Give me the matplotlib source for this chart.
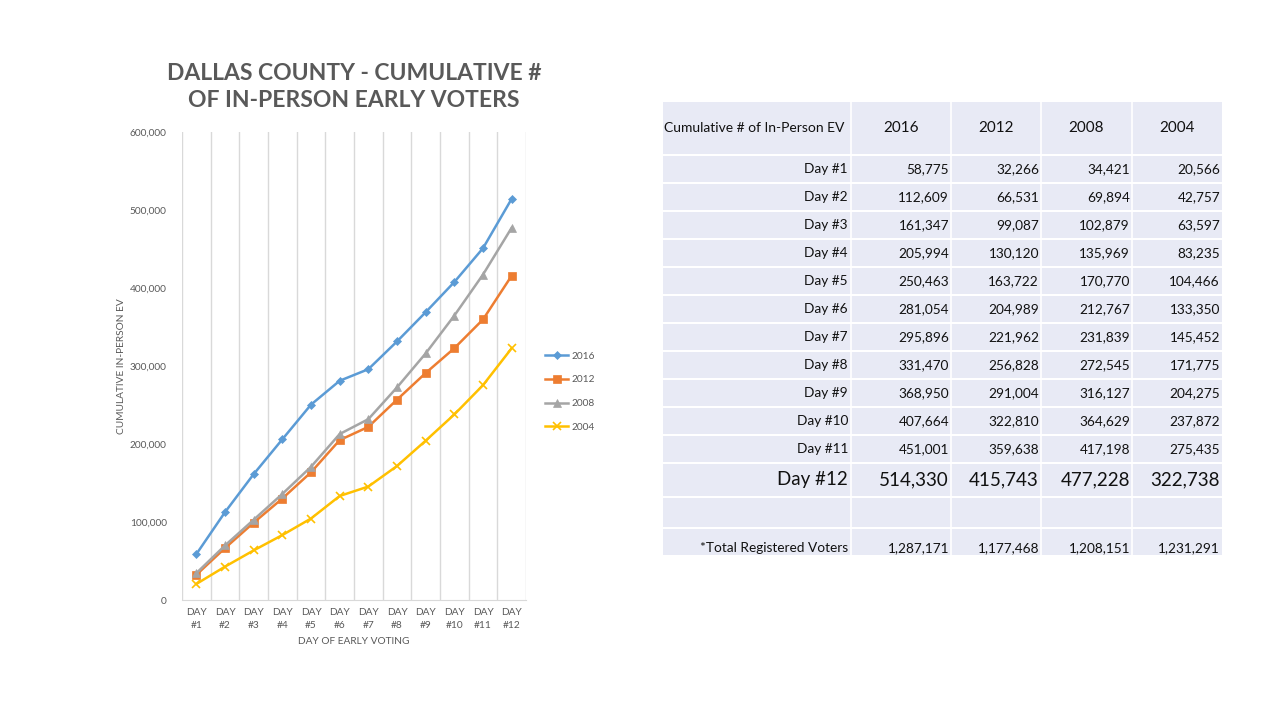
import matplotlib
matplotlib.use("Agg")
import matplotlib.pyplot as plt
from matplotlib.ticker import FuncFormatter

plt.rcParams['font.family'] = ['Lato', 'DejaVu Sans']

# Data
days = ['Day #%d' % i for i in range(1, 13)]
tick_labels = ['DAY\n#%d' % i for i in range(1, 13)]
years = ['2016', '2012', '2008', '2004']
ev_2016 = [58775, 112609, 161347, 205994, 250463, 281054, 295896, 331470, 368950, 407664, 451001, 514330]
ev_2012 = [32266, 66531, 99087, 130120, 163722, 204989, 221962, 256828, 291004, 322810, 359638, 415743]
ev_2008 = [34421, 69894, 102879, 135969, 170770, 212767, 231839, 272545, 316127, 364629, 417198, 477228]
ev_2004 = [20566, 42757, 63597, 83235, 104466, 133350, 145452, 171775, 204275, 237872, 275435, 322738]
registered = [1287171, 1177468, 1208151, 1231291]

series = [ev_2016, ev_2012, ev_2008, ev_2004]
colors = ['#5B9BD5', '#ED7D31', '#A5A5A5', '#FFC000']
markers = ['D', 's', '^', 'x']
msizes = [4.5, 5.5, 5.5, 6]

grey = '#595959'

fig = plt.figure(figsize=(12.8, 7.2), dpi=100)

# ---- line chart
ax = fig.add_axes([182 / 1280, 1 - 600 / 720, 344 / 1280, 468 / 720])
x = list(range(len(days)))
for s, yr, c, m, ms in zip(series, years, colors, markers, msizes):
    ax.plot(x, s, color=c, lw=1.8, marker=m, ms=ms, mew=1.2 if m == 'x' else 0.5,
            mec=c, label=yr)

ax.set_xlim(-0.5, len(days) - 0.5)
ax.set_ylim(0, 600000)
ax.set_yticks(range(0, 600001, 100000))
ax.yaxis.set_major_formatter(FuncFormatter(lambda v, p: '{:,}'.format(int(v))))
ax.set_xticks(x)
ax.set_xticklabels(tick_labels, linespacing=1.5)
ax.set_xticks([i - 0.5 for i in range(len(days) + 1)], minor=True)
ax.grid(which='minor', axis='x', color='#D9D9D9', lw=1)
ax.tick_params(which='both', length=0, colors=grey, labelsize=7.3)
ax.tick_params(axis='y', pad=11)
ax.tick_params(axis='x', pad=6)
for sp in ['top', 'right', 'left']:
    ax.spines[sp].set_visible(False)
ax.spines['bottom'].set_color('#D9D9D9')

ax.set_ylabel('CUMULATIVE IN-PERSON EV', fontsize=7.3, color=grey, labelpad=3)
ax.set_xlabel('DAY OF EARLY VOTING', fontsize=7.3, color=grey, labelpad=5)
ax.set_title('DALLAS COUNTY - CUMULATIVE #\nOF IN-PERSON EARLY VOTERS', fontsize=16.5,
             fontweight='bold', color=grey, pad=18, linespacing=1.35)

ax.legend(loc='center left', bbox_to_anchor=(1.03, 0.445), frameon=False, fontsize=7.3,
          handlelength=2.2, labelspacing=1.45, handletextpad=0.4, labelcolor=grey)

# ---- table
ta = fig.add_axes([663 / 1280, 1 - 555 / 720, 559 / 1280, 453 / 720])
ta.set_xlim(0, 559)
ta.set_ylim(453, 0)
ta.axis('off')

col_edges = [0, 188, 288, 378, 469, 559]
row_edges = [0, 53] + [53 + 28 * (i + 1) for i in range(11)] + [395, 426, 453]

ta.add_patch(plt.Rectangle((0, 0), 559, 453, color='#E8EAF5', lw=0))
for xe in col_edges[1:-1]:
    ta.plot([xe, xe], [0, 453], color='white', lw=1.2)
for ye in row_edges[1:-1]:
    ta.plot([0, 559], [ye, ye], color='white', lw=1.5)

txt = '#111111'
# header
hy = (row_edges[0] + row_edges[1]) / 2
ta.text(1, hy, 'Cumulative # of In-Person EV', ha='left', va='center', fontsize=10, color=txt)
for j, yr in enumerate(years):
    ta.text((col_edges[j + 1] + col_edges[j + 2]) / 2, hy, yr, ha='center', va='center',
            fontsize=11, color=txt)

# day rows
for i, d in enumerate(days):
    cy = (row_edges[i + 1] + row_edges[i + 2]) / 2
    fs = 13.5 if i == len(days) - 1 else 9.8
    ta.text(col_edges[1] - 3, cy, d, ha='right', va='center', fontsize=fs, color=txt)
    for j, s in enumerate(series):
        ta.text(col_edges[j + 2] - 2, cy, '{:,}'.format(s[i]), ha='right', va='center',
                fontsize=fs, color=txt)

# registered voters row
ry = row_edges[-1] - 7
ta.text(col_edges[1] - 3, ry, '*Total Registered Voters', ha='right', va='center',
        fontsize=9.8, color=txt)
for j, r in enumerate(registered):
    ta.text(col_edges[j + 2] - 2, ry, '{:,}'.format(r), ha='right', va='center',
            fontsize=9.8, color=txt)

fig.savefig('out.png', dpi=100)
